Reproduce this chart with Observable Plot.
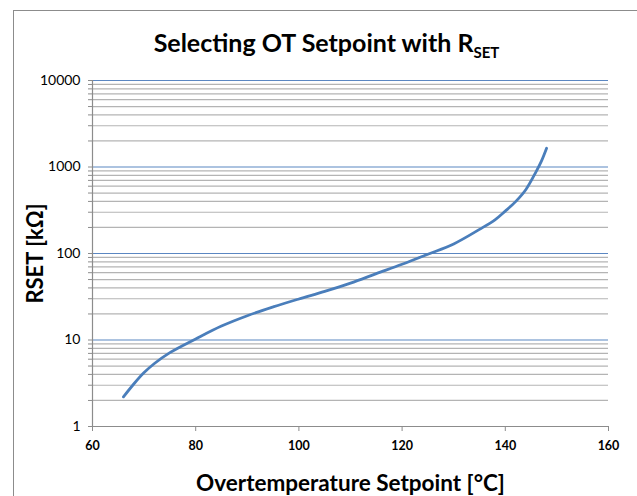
<!DOCTYPE html>
<html><head><meta charset="utf-8">
<script src="https://cdn.jsdelivr.net/npm/d3@7"></script>
<script src="https://cdn.jsdelivr.net/npm/@observablehq/plot@0.6"></script>
<style>
body{margin:0;background:#fff;}
#wrap{position:relative;width:637px;height:496px;overflow:hidden;font-family:Lato,sans-serif;}
#frame{position:absolute;left:13px;top:10px;width:700px;height:600px;border:1.5px solid #8c8c8c;box-sizing:border-box;}
#title{position:absolute;left:8px;top:27px;width:637px;text-align:center;font-size:25px;line-height:30px;font-weight:bold;color:#000;z-index:2;white-space:nowrap;}
#title sub{font-size:15px;vertical-align:baseline;position:relative;top:6px;}
#chart{position:absolute;left:0;top:0;z-index:1;}
</style></head>
<body>
<div id="wrap">
  <div id="frame"></div>
  <div id="title">Selecting OT Setpoint with R<sub>SET</sub></div>
  <div id="chart"></div>
</div>
<script>
// Data
const temperature = [66, 68, 70, 72, 75, 80, 85, 90, 95, 100, 105, 110, 115, 120, 125, 130, 135, 138, 140, 142, 144, 146, 147, 148];
const rset = [2.2, 3.1, 4.2, 5.35, 7.15, 10.3, 14.5, 19.1, 24.1, 29.8, 36.5, 45.5, 58.5, 75, 98, 129, 190, 245, 309, 398, 550, 890, 1170, 1650];
const xTicks = [60, 80, 100, 120, 140, 160];
const yMajor = [1, 10, 100, 1000, 10000];
const yMinor = [1, 10, 100, 1000].flatMap(d => [2,3,4,5,6,7,8,9].map(k => d * k));

const data = temperature.map((t, i) => ({t, r: rset[i]}));
const blue = "#4a7ebb";

const chart = Plot.plot({
  width: 637,
  height: 496,
  marginLeft: 92,
  marginRight: 29,
  marginTop: 80,
  marginBottom: 70,
  style: {fontFamily: "Lato, sans-serif", background: "transparent", color: "#000"},
  x: {domain: [60, 160]},
  y: {type: "log", domain: [1, 10000]},
  marks: [
    Plot.ruleY(yMinor, {stroke: "#b4b4b4", strokeWidth: 1.2}),
    Plot.ruleY(yMajor.filter(d => d > 1), {stroke: "#5b87c2", strokeWidth: 1.2}),
    Plot.ruleY([1], {stroke: "#8c8c8c", strokeWidth: 1.2}),
    Plot.ruleX([60], {stroke: "#8c8c8c", strokeWidth: 1.2}),
    Plot.axisY({ticks: [...yMajor, ...yMinor], tickFormat: d => yMajor.includes(d) ? String(d) : "", tickSize: 4, tickPadding: 8, fontSize: 14, label: null, stroke: "#8c8c8c"}),
    Plot.axisX({ticks: xTicks, tickFormat: d => String(d), tickSize: 5, tickPadding: 10, fontSize: 12.5, fontWeight: "bold", label: null, stroke: "#8c8c8c"}),
    Plot.line(data, {x: "t", y: "r", stroke: blue, strokeWidth: 2.8, curve: "catmull-rom"}),
    Plot.text(["Overtemperature Setpoint [°C]"], {frameAnchor: "bottom", lineAnchor: "middle", dy: 57, fontSize: 22.5, fontWeight: "bold", fill: "#000"}),
    Plot.text(["RSET [kΩ]"], {frameAnchor: "left", textAnchor: "middle", lineAnchor: "middle", dx: -57, rotate: -90, fontSize: 22, fontWeight: "bold", fill: "#000"})
  ]
});
document.getElementById("chart").appendChild(chart);
</script>
</body></html>
